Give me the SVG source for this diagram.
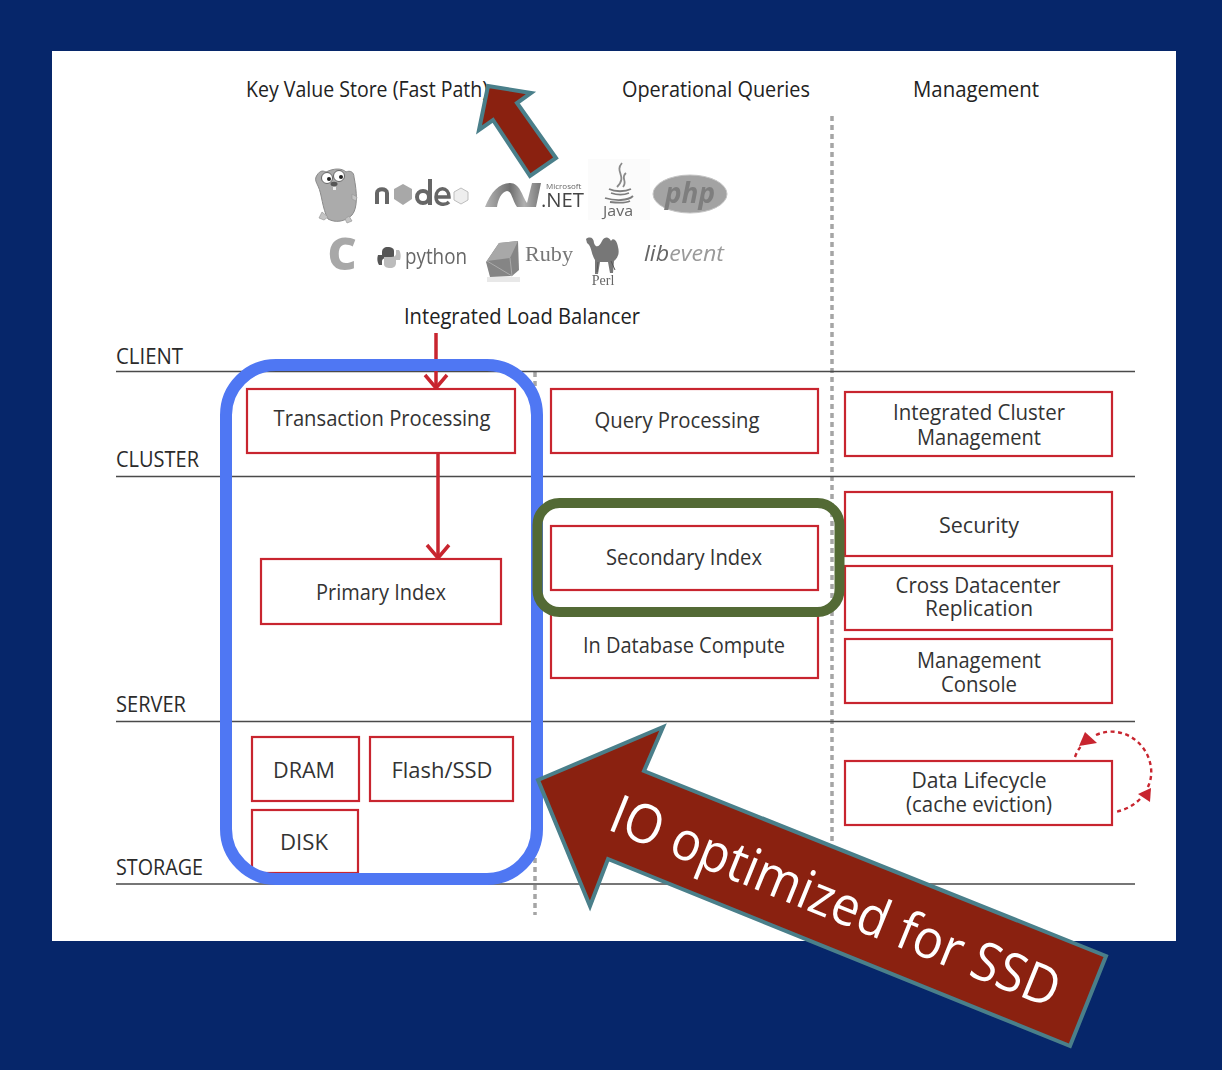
<svg xmlns="http://www.w3.org/2000/svg" width="1222" height="1070" viewBox="0 0 1222 1070">
<style>
text{font-family:"Open Sans","Noto Sans","Liberation Sans",sans-serif;fill:#2b2b2b}
.h{font-size:21px;text-anchor:middle;fill:#222}
.t{font-size:22px;text-anchor:middle;fill:#333}
.lay{font-size:21px;fill:#2b2b2b}
.box{fill:#fff;stroke:#c8252f;stroke-width:2.2}
.ln{stroke:#4a4a4a;stroke-width:1.4;fill:none}
.dot{stroke:#a5a5a5;stroke-width:3.5;stroke-dasharray:5 4;fill:none}
.con{stroke:#c8252f;stroke-width:3.5;fill:none}
.dash{stroke:#c8252f;stroke-width:2.4;stroke-dasharray:4 3.5;fill:none}
.big{fill:#8a2110;stroke:#4a7f8a;stroke-width:4;stroke-linejoin:miter}
</style>
<defs>
<filter id="soft" x="-5%" y="-5%" width="110%" height="110%"><feGaussianBlur stdDeviation="0.5"/></filter>
<linearGradient id="net" x1="0" x2="1" y1="0" y2="0"><stop offset="0" stop-color="#b5b5b5"/><stop offset="0.45" stop-color="#6f6f6f"/><stop offset="0.7" stop-color="#b0b0b0"/><stop offset="1" stop-color="#777"/></linearGradient>
<marker id="open" viewBox="0 0 26 26" markerWidth="26" markerHeight="26" markerUnits="userSpaceOnUse" refX="22" refY="13" orient="auto"><path d="M9 2L22 13L9 24" fill="none" stroke="#c8252f" stroke-width="3.5"/></marker>
</defs>
<rect width="1222" height="1070" fill="#06266a"/>
<rect x="52" y="51" width="1124" height="890" fill="#fff"/>

<g id="layers">
<path class="dot" d="M832 116V880M535 372V915"/>
<path class="ln" d="M116 371.500H1135M116 476.500H1135M116 721.500H1135M116 884H1135"/>
<text class="lay" x="116" y="364" textLength="67" lengthAdjust="spacingAndGlyphs">CLIENT</text>
<text class="lay" x="116" y="467" textLength="83" lengthAdjust="spacingAndGlyphs">CLUSTER</text>
<text class="lay" x="116" y="712" textLength="70" lengthAdjust="spacingAndGlyphs">SERVER</text>
<text class="lay" x="116" y="875" textLength="87" lengthAdjust="spacingAndGlyphs">STORAGE</text>
</g>

<g id="headers">
<text class="h" x="367" y="97" textLength="242" lengthAdjust="spacingAndGlyphs">Key Value Store (Fast Path)</text>
<text class="h" x="716" y="97" textLength="188" lengthAdjust="spacingAndGlyphs">Operational Queries</text>
<text class="h" x="976" y="97" textLength="126" lengthAdjust="spacingAndGlyphs">Management</text>
<text class="h" x="522" y="324" textLength="236" lengthAdjust="spacingAndGlyphs">Integrated Load Balancer</text>
</g>

<g id="logos" filter="url(#soft)">
<g id="logo-go">
<path d="M316 177C319 171 322 170 326 172C334 168 342 168 346 172C350 170 354 172 354 177C357 192 358 208 352 215C345 222 335 223 328 219C322 208 322 194 318 186C316 182 315 180 316 177Z" fill="#ababab" stroke="#8a8a8a"/>
<path d="M322 212l-3 6 5 2 4-3zM345 219l2 4 5-2-3-5zM352 194l5 3-1 4-4-2z" fill="#c4c4c4" stroke="#999" stroke-width="0.7"/>
<circle cx="327" cy="178" r="5.500" fill="#fff" stroke="#666"/><circle cx="339" cy="176" r="5.500" fill="#fff" stroke="#666"/>
<circle cx="329" cy="179" r="2" fill="#222"/><circle cx="341" cy="177" r="2" fill="#222"/>
<ellipse cx="334" cy="184" rx="3.500" ry="2.200" fill="#555"/><rect x="333" y="187" width="3" height="3" fill="#eee"/>
</g>
<g id="logo-node">
<path d="M377 204V193C377 188 387 188 387 193V204" fill="none" stroke="#666" stroke-width="4"/>
<polygon points="403,184 412,189 412,199 403,205 394,199 394,189" fill="#a8a8a8"/>
<circle cx="423" cy="197" r="6" fill="none" stroke="#666" stroke-width="4"/><rect x="428" y="179" width="4" height="26" fill="#666"/>
<path d="M436 197H449C449 186 436 186 436 197C436 205 445 206 449 202" fill="none" stroke="#666" stroke-width="3.500"/>
<polygon points="461,188 468,192 468,200 461,204 454,200 454,192" fill="#eee" stroke="#bdbdbd"/>
</g>
<g id="logo-net">
<path d="M485 207C491 192 499 183 510 183C520 183 522 196 527 203L532 183H541L536 207H517C512 200 512 191 507 191C501 192 498 200 497 207Z" fill="url(#net)"/>
<text x="546" y="189" style="font-size:8px;fill:#666">Microsoft</text>
<text x="541" y="207" style="font-size:20px;fill:#444" textLength="43" lengthAdjust="spacingAndGlyphs">.NET</text>
</g>
<g id="logo-java">
<rect x="588" y="159" width="62" height="61" fill="#fbfbfb"/>
<path d="M622 163C614 172 628 176 617 187M626 173C620 178 628 181 623 187" fill="none" stroke="#8a8a8a" stroke-width="1.800"/>
<path d="M609 189C615 192 625 192 631 189M611 193C617 195 624 195 629 193M605 198C615 201 628 201 633 196M610 202C618 203 626 203 630 201" fill="none" stroke="#7d7d7d" stroke-width="1.800"/>
<text x="618" y="216" style="font-size:14px;fill:#666;text-anchor:middle" textLength="30" lengthAdjust="spacingAndGlyphs">Java</text>
</g>
<g id="logo-php">
<ellipse cx="690" cy="194" rx="37" ry="19" fill="#a3a3a3" stroke="#c4c4c4"/>
<text x="690" y="203" style="font-size:28px;font-weight:700;font-style:italic;fill:#7e7e7e;text-anchor:middle" textLength="50" lengthAdjust="spacingAndGlyphs">php</text>
</g>
<g id="logo-c"><text x="342" y="270" style="font-size:45px;font-weight:800;fill:#a8a8a8;text-anchor:middle">C</text></g>
<g id="logo-python">
<path d="M388 247C384 247 382 249 382 252V255H378C377 258 377 262 379 265H382V261C382 259 384 258 387 258H394V251C394 248 391 247 388 247Z" fill="#555"/>
<path d="M390 268C394 268 396 266 396 263V260H400C401 257 401 253 399 250H396V254C396 256 394 257 391 257H384V264C384 267 387 268 390 268Z" fill="#bcbcbc"/>
<text x="405" y="264" style="font-size:21px;fill:#666" textLength="62" lengthAdjust="spacingAndGlyphs">python</text>
</g>
<g id="logo-ruby">
<polygon points="499,243 518,241 519,270 512,276 490,277 486,262" fill="#858585"/>
<polygon points="499,243 518,241 510,258 487,261" fill="#a8a8a8"/>
<path d="M510 258L512 276M487 261L512 276" stroke="#aaa" fill="none"/>
<rect x="487" y="277" width="33" height="5" fill="#e8e8e8"/>
<text x="525" y="261" style="font-family:'Liberation Serif',serif;font-size:22px;fill:#777" textLength="48" lengthAdjust="spacingAndGlyphs">Ruby</text>
</g>
<g id="logo-perl">
<path d="M586 239C590 236 594 238 594 243C596 249 600 246 602 241C605 236 609 237 611 241C613 237 617 240 618 247C620 254 617 259 614 261L613 273H610L608 262H600L598 274H595L595 260C591 254 592 246 587 243Z" fill="#777"/>
<path d="M598 262L597 272M611 261L615 270" stroke="#555"/>
<text x="603" y="285" style="font-family:'Liberation Serif',serif;font-size:14px;fill:#666;text-anchor:middle">Perl</text>
</g>
<g id="logo-libevent">
<text x="644" y="261" style="font-size:22px;font-style:italic;fill:#9a9a9a" textLength="80" lengthAdjust="spacingAndGlyphs"><tspan style="fill:#666">lib</tspan>event</text>
</g>
</g>

<g id="connectors">
<path class="con" d="M436 333V388" marker-end="url(#open)"/>
<path class="con" d="M438 454V558" marker-end="url(#open)"/>
<path class="dash" d="M1075 757C1077 751 1080 747 1084 743M1096 735C1120 724 1148 741 1151 768C1152 776 1150 783 1147 789M1140 799C1133 806 1125 810 1115 812"/>
<polygon points="1085,732 1097,743 1079,746" fill="#c8252f"/>
<polygon points="1151,788 1150,802 1138,794" fill="#c8252f"/>
</g>

<g id="n-indb"><rect class="box" x="551" y="612" width="267" height="66"/><text class="t" x="684" y="653" textLength="202" lengthAdjust="spacingAndGlyphs">In Database Compute</text></g>
<g id="n-tx"><rect class="box" x="247" y="389" width="268" height="64"/><text class="t" x="382" y="426" textLength="217" lengthAdjust="spacingAndGlyphs">Transaction Processing</text></g>
<g id="n-query"><rect class="box" x="551" y="389" width="267" height="64"/><text class="t" x="677" y="428" textLength="165" lengthAdjust="spacingAndGlyphs">Query Processing</text></g>
<g id="n-cluster"><rect class="box" x="845" y="392" width="267" height="64"/><text class="t" x="979" y="420" textLength="172" lengthAdjust="spacingAndGlyphs">Integrated Cluster</text><text class="t" x="979" y="445" textLength="124" lengthAdjust="spacingAndGlyphs">Management</text></g>
<g id="n-primary"><rect class="box" x="261" y="559" width="240" height="65"/><text class="t" x="381" y="600" textLength="130" lengthAdjust="spacingAndGlyphs">Primary Index</text></g>
<g id="n-secondary"><rect class="box" x="551" y="526" width="267" height="64"/><text class="t" x="684" y="565" textLength="156" lengthAdjust="spacingAndGlyphs">Secondary Index</text></g>
<g id="n-security"><rect class="box" x="845" y="492" width="267" height="64"/><text class="t" x="979" y="533" textLength="80" lengthAdjust="spacingAndGlyphs">Security</text></g>
<g id="n-cross"><rect class="box" x="845" y="566" width="267" height="64"/><text class="t" x="978" y="593" textLength="165" lengthAdjust="spacingAndGlyphs">Cross Datacenter</text><text class="t" x="979" y="616" textLength="108" lengthAdjust="spacingAndGlyphs">Replication</text></g>
<g id="n-console"><rect class="box" x="845" y="639" width="267" height="64"/><text class="t" x="979" y="668" textLength="124" lengthAdjust="spacingAndGlyphs">Management</text><text class="t" x="979" y="692" textLength="76" lengthAdjust="spacingAndGlyphs">Console</text></g>
<g id="n-dram"><rect class="box" x="252" y="737" width="107" height="64"/><text class="t" x="304" y="778" textLength="62" lengthAdjust="spacingAndGlyphs">DRAM</text></g>
<g id="n-flash"><rect class="box" x="370" y="737" width="143" height="64"/><text class="t" x="442" y="778" textLength="101" lengthAdjust="spacingAndGlyphs">Flash/SSD</text></g>
<g id="n-disk"><rect class="box" x="252" y="810" width="106" height="63"/><text class="t" x="304" y="850" textLength="48" lengthAdjust="spacingAndGlyphs">DISK</text></g>
<g id="n-lifecycle"><rect class="box" x="845" y="761" width="267" height="64"/><text class="t" x="979" y="788" textLength="135" lengthAdjust="spacingAndGlyphs">Data Lifecycle</text><text class="t" x="979" y="812" textLength="146" lengthAdjust="spacingAndGlyphs">(cache eviction)</text></g>

<g id="highlights">
<rect x="226" y="365" width="311" height="514" rx="50" fill="none" stroke="#4f77f3" stroke-width="12"/>
<rect x="537.500" y="503" width="302" height="109" rx="22" fill="none" stroke="#536a35" stroke-width="10"/>
</g>

<g id="arrow-small"><polygon class="big" points="488,86 531,93 517,103 556,158 530,176 493,120 479,130"/></g>
<g id="arrow-big">
<polygon class="big" points="538,780 663,727 644,771 1106,956 1070,1046 608,859 590,906"/>
<text transform="translate(606,829) rotate(22)" style="font-size:54px;fill:#fff;font-family:'Open Sans',sans-serif;font-weight:400" textLength="480" lengthAdjust="spacingAndGlyphs">IO optimized for SSD</text>
</g>
</svg>
